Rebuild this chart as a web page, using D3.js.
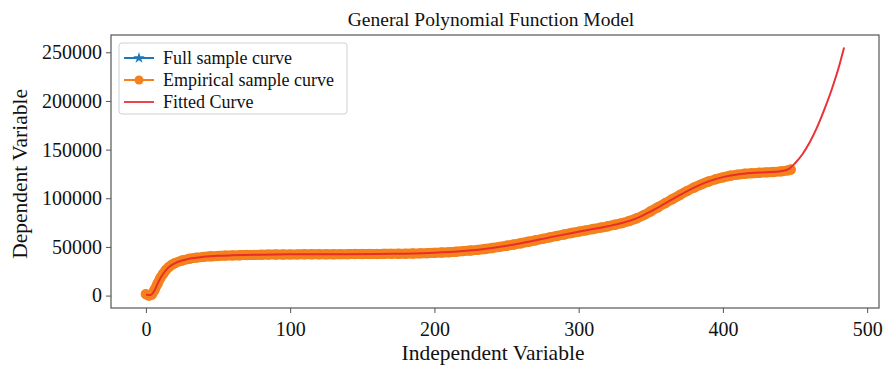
<!DOCTYPE html>
<html>
<head>
<meta charset="utf-8">
<script src="https://cdn.jsdelivr.net/npm/d3@7"></script>
<style>
  body { margin: 0; background: #fff; }
  text { font-family: "Liberation Serif", "Times New Roman", serif; fill: #111; }
</style>
</head>
<body>
<div id="root"></div>
<script>
// empirical / full sample values
const sampleX = [0, 2, 4, 6, 8, 10, 12, 14, 16, 18, 20, 25, 30, 35, 40, 45, 50, 55, 60, 65, 70, 75, 80, 85, 90, 95,
  100, 105, 110, 115, 120, 125, 130, 135, 140, 145, 150, 155, 160, 165, 170, 175, 180, 185, 190, 195,
  200, 205, 210, 215, 220, 225, 230, 235, 240, 245, 250, 255, 260, 265, 270, 275, 280, 285, 290, 295,
  300, 305, 310, 315, 320, 325, 330, 335, 340, 345, 350, 355, 360, 365, 370, 375, 380, 385, 390, 395,
  400, 405, 410, 415, 420, 425, 430, 435, 440, 445, 447];
const sampleY = [1500, 0, 1000, 6000, 12000, 18000, 22500, 26500, 29500, 31800, 33300, 36000, 37800, 39000, 39800, 40400, 40800, 41100, 41300, 41500, 41700, 41800, 42000, 42100, 42200, 42200,
  42300, 42300, 42400, 42400, 42500, 42500, 42500, 42600, 42600, 42700, 42700, 42800, 42800, 42900, 42900, 43000, 43100, 43200, 43400, 43600,
  43900, 44200, 44600, 45100, 45700, 46300, 47000, 47900, 48900, 50000, 51200, 52500, 53800, 55300, 56800, 58300, 59800, 61300, 62800, 64300,
  65700, 67000, 68400, 69800, 71200, 72800, 74500, 76600, 79300, 82700, 86700, 90800, 95000, 99200, 103300, 107300, 111000, 114300, 117200, 119600,
  121500, 123100, 124300, 125200, 125800, 126200, 126600, 127000, 127600, 128700, 129500];

// fitted curve
const fitX = [0, 3, 6, 9, 12, 15, 20, 25, 30, 40, 50, 60, 80, 100, 120, 140, 160, 180, 200, 220, 240, 260, 280, 300,
  320, 330, 340, 350, 360, 370, 380, 390, 400, 410, 420, 430, 440, 444, 446, 450, 455, 460, 465, 470, 475, 480, 484];
const fitY = [1000, 500, 5500, 15000, 22500, 28000, 33200, 36000, 37800, 39800, 40900, 41400, 42000, 42400, 42500, 42600, 42800, 43100, 43900, 45700, 48900, 53800, 59800, 65700,
  71200, 74500, 79300, 86600, 94800, 103200, 111000, 117300, 121700, 124400, 125900, 126700, 127800, 129000, 130500, 136000, 145000, 157000, 172000, 190000, 210000, 233000, 255000];

const xTicks = [0, 100, 200, 300, 400, 500];
const yTicks = [0, 50000, 100000, 150000, 200000, 250000];
const legendLabels = ["Full sample curve", "Empirical sample curve", "Fitted Curve"];

const W = 883, H = 365;
const margin = { top: 35, right: 4, bottom: 57, left: 111 };
const width = W - margin.left - margin.right;
const height = H - margin.top - margin.bottom;

const svg = d3.select("#root").append("svg")
  .attr("width", W).attr("height", H);

const g = svg.append("g").attr("transform", `translate(${margin.left},${margin.top})`);

// matplotlib style 5% margins
const xMax = d3.max(fitX), yMax = d3.max(fitY);
const x = d3.scaleLinear().domain([-xMax * 0.05, xMax * 1.05]).range([0, width]);
const y = d3.scaleLinear().domain([-yMax * 0.05, yMax * 1.05]).range([height, 0]);

const sample = sampleX.map((d, i) => ({ x: d, y: sampleY[i] }));
const fit = fitX.map((d, i) => ({ x: d, y: fitY[i] }));

const line = d3.line().x(d => x(d.x)).y(d => y(d.y));
const smooth = d3.line().x(d => x(d.x)).y(d => y(d.y)).curve(d3.curveMonotoneX);

g.append("defs").append("clipPath").attr("id", "clip")
  .append("rect").attr("width", width).attr("height", height);

const plot = g.append("g").attr("clip-path", "url(#clip)");

// full sample (hidden under empirical)
plot.append("path").datum(sample).attr("d", line)
  .attr("fill", "none").attr("stroke", "#1f77b4").attr("stroke-width", 1.5);

// empirical sample: dense circle markers form a thick band
plot.append("path").datum(sample).attr("d", smooth)
  .attr("fill", "none").attr("stroke", "#f5811c").attr("stroke-width", 10)
  .attr("stroke-linejoin", "round").attr("stroke-linecap", "round");
plot.selectAll("circle.emp").data(sample).join("circle")
  .attr("class", "emp")
  .attr("cx", d => x(d.x)).attr("cy", d => y(d.y)).attr("r", 5.2)
  .attr("fill", "#f5811c");

// fitted curve
plot.append("path").datum(fit).attr("d", smooth)
  .attr("fill", "none").attr("stroke", "#e8282c").attr("stroke-width", 2)
  .attr("stroke-linejoin", "round").attr("opacity", 0.95);

// axes
const xAxis = g.append("g").attr("transform", `translate(0,${height})`)
  .call(d3.axisBottom(x).tickValues(xTicks).tickSize(5).tickPadding(4));
const yAxis = g.append("g")
  .call(d3.axisLeft(y).tickValues(yTicks).tickSize(5).tickPadding(4).tickFormat(d3.format("d")));

[xAxis, yAxis].forEach(a => {
  a.select(".domain").remove();
  a.selectAll("line").attr("stroke", "#555").attr("stroke-width", 1);
  a.selectAll("text").attr("font-size", 20).attr("fill", "#111");
});
xAxis.selectAll("text").attr("dy", "0.95em");

// frame
g.append("rect").attr("width", width).attr("height", height)
  .attr("fill", "none").attr("stroke", "#555").attr("stroke-width", 1.2);

// labels
svg.append("text").attr("x", margin.left + width / 2 - 4).attr("y", 26)
  .attr("text-anchor", "middle").attr("font-size", 19.5)
  .text("General Polynomial Function Model");
svg.append("text").attr("x", margin.left + width / 2 - 2).attr("y", 360)
  .attr("text-anchor", "middle").attr("font-size", 21.5)
  .text("Independent Variable");
svg.append("text")
  .attr("transform", `translate(27,${margin.top + y(125000)}) rotate(-90)`)
  .attr("text-anchor", "middle").attr("font-size", 21.5)
  .text("Dependent Variable");

// legend
const lg = g.append("g").attr("transform", "translate(8,8)");
lg.append("rect").attr("width", 228).attr("height", 71).attr("rx", 3)
  .attr("fill", "#fff").attr("fill-opacity", 0.85)
  .attr("stroke", "#d0d0d0").attr("stroke-width", 1);
const colors = ["#1f77b4", "#f5811c", "#e8282c"];
legendLabels.forEach((lab, i) => {
  const cy = 15 + i * 22;
  lg.append("line").attr("x1", 5).attr("x2", 35).attr("y1", cy).attr("y2", cy)
    .attr("stroke", colors[i]).attr("stroke-width", 2).attr("opacity", i === 2 ? 0.85 : 1);
  if (i === 0) {
    lg.append("path").attr("d", d3.symbol(d3.symbolStar, 40)())
      .attr("transform", `translate(20,${cy})`).attr("fill", colors[i]);
  } else if (i === 1) {
    lg.append("circle").attr("cx", 20).attr("cy", cy).attr("r", 4.5).attr("fill", colors[i]);
  }
  lg.append("text").attr("x", 44).attr("y", cy).attr("dy", "0.35em")
    .attr("font-size", 18).text(lab);
});
</script>
</body>
</html>
